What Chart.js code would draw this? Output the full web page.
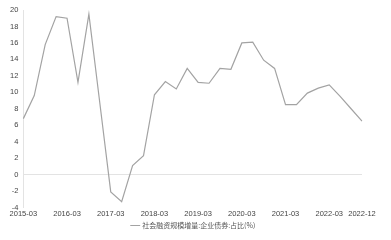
<!DOCTYPE html>
<html>
<head>
<meta charset="utf-8">
<script src="https://cdn.jsdelivr.net/npm/chart.js@4"></script>
<style>
  html, body { margin: 0; padding: 0; background: #fff; }
  #wrap { width: 391px; height: 240px; }
</style>
</head>
<body>
<div id="wrap"><canvas id="bondChart"></canvas></div>
<script>
// quarterly share of corporate bonds in social financing increment (%)
const quarters = [
    '2015-03', '2015-06', '2015-09', '2015-12',
    '2016-03', '2016-06', '2016-09', '2016-12',
    '2017-03', '2017-06', '2017-09', '2017-12',
    '2018-03', '2018-06', '2018-09', '2018-12',
    '2019-03', '2019-06', '2019-09', '2019-12',
    '2020-03', '2020-06', '2020-09', '2020-12',
    '2021-03', '2021-06', '2021-09', '2021-12',
    '2022-03', '2022-06', '2022-09', '2022-12'
];
const bondShare = [
    6.8, 9.6, 15.8, 19.2,
    19.0, 11.2, 19.5, 8.7,
    -2.1, -3.3, 1.1, 2.3,
    9.7, 11.3, 10.4, 12.9,
    11.2, 11.1, 12.9, 12.8,
    16.0, 16.1, 13.9, 12.9,
    8.5, 8.5, 9.9, 10.5,
    10.9, 9.5, 8.0, 6.5
];
const shownTicks = ['2015-03', '2016-03', '2017-03', '2018-03', '2019-03', '2020-03', '2021-03', '2022-03', '2022-12'];
const seriesName = '社会融资规模增量:企业债券:占比(%)';

const tickFont = '"Liberation Sans", Arial, sans-serif';
const legendFont = '"Noto Sans CJK SC", sans-serif';

// legend sits centred on the whole canvas, not on the plot area
const legendShift = {
    id: 'legendShift',
    afterLayout(chart) {
        chart.legend.left += 10;
        chart.legend.right += 10;
    }
};

document.addEventListener('DOMContentLoaded', () => {
    const ctx = document.getElementById('bondChart').getContext('2d');
    new Chart(ctx, {
        type: 'line',
        data: {
            labels: quarters,
            datasets: [{
                label: seriesName,
                data: bondShare,
                borderColor: '#a3a3a3',
                backgroundColor: '#a3a3a3',
                borderWidth: 1.2,
                pointRadius: 0,
                tension: 0
            }]
        },
        options: {
            responsive: true,
            maintainAspectRatio: false,
            animation: false,
            layout: { padding: { left: 5, right: 29, top: 10, bottom: 1 } },
            plugins: {
                legend: {
                    position: 'bottom',
                    labels: {
                        usePointStyle: true,
                        pointStyle: 'line',
                        boxWidth: 8,
                        color: '#555',
                        padding: 1.5,
                        font: { family: legendFont, size: 7 }
                    }
                },
                tooltip: { enabled: false }
            },
            scales: {
                x: {
                    offset: false,
                    grid: { display: false, drawTicks: false },
                    border: { display: false },
                    ticks: {
                        autoSkip: false,
                        maxRotation: 0,
                        color: '#444',
                        padding: 2,
                        font: { family: tickFont, size: 7.5 },
                        callback: function(value, index) {
                            const lab = this.getLabelForValue(value);
                            return shownTicks.includes(lab) ? lab : null;
                        }
                    }
                },
                y: {
                    min: -4,
                    max: 20,
                    ticks: {
                        stepSize: 2,
                        color: '#444',
                        padding: 5,
                        font: { family: tickFont, size: 7.5 }
                    },
                    border: { display: true, color: '#e3e3e3' },
                    grid: {
                        drawTicks: false,
                        color: (c) => c.tick && c.tick.value === 0 ? '#e3e3e3' : 'rgba(0,0,0,0)'
                    }
                }
            }
        },
        plugins: [legendShift]
    });
});
</script>
</body>
</html>
